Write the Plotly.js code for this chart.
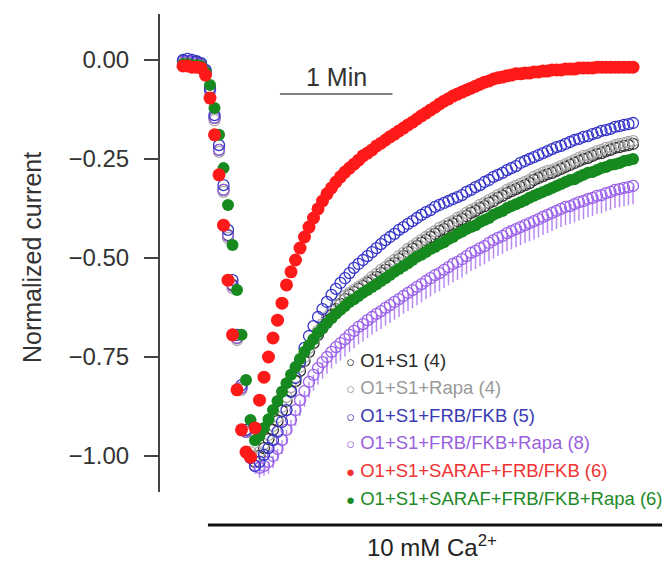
<!DOCTYPE html>
<html>
<head>
<meta charset="utf-8">
<script src="https://cdn.plot.ly/plotly-3.0.1.min.js"></script>
<style>html,body{margin:0;padding:0;background:#fff;}#chart{width:672px;height:562px;}</style>
</head>
<body>
<div id="chart"></div>
<script>
// time (s) after start of recording
const time = [0,2.4,4.8,7.2,9.6,12,14.4,16.8,19.2,21.6,24,26.4,28.8,31.2,33.6,36,38.4,40.8,43.2,45.6,48,50.4,52.8,55.2,57.6,60,62.4,64.8,67.2,69.6,72,74.4,76.8,79.2,81.6,84,86.4,88.8,91.2,93.6,96,98.4,100.8,103.2,105.6,108,110.4,112.8,115.2,117.6,120,122.4,124.8,127.2,129.6,132,134.4,136.8,139.2,141.6,144,146.4,148.8,151.2,153.6,156,158.4,160.8,163.2,165.6,168,170.4,172.8,175.2,177.6,180,182.4,184.8,187.2,189.6,192,194.4,196.8,199.2,201.6,204,206.4,208.8,211.2,213.6,216,218.4,220.8,223.2,225.6,228,230.4,232.8,235.2,237.6,240];

const seriesNames = ['O1+S1 (4)','O1+S1+Rapa (4)','O1+S1+FRB/FKB (5)','O1+S1+FRB/FKB+Rapa (8)','O1+S1+SARAF+FRB/FKB (6)','O1+S1+SARAF+FRB/FKB+Rapa (6)'];

const o1s1 = [-0.003,-0.003,-0.005,-0.005,-0.010,-0.028,-0.076,-0.146,-0.227,-0.328,
-0.442,-0.568,-0.702,-0.828,-0.939,-1.000,-1.015,-1.000,-0.980,-0.957,
-0.934,-0.912,-0.886,-0.861,-0.836,-0.811,-0.785,-0.760,-0.737,-0.715,
-0.694,-0.677,-0.659,-0.644,-0.629,-0.616,-0.604,-0.593,-0.586,-0.578,
-0.571,-0.563,-0.556,-0.548,-0.538,-0.530,-0.520,-0.513,-0.503,-0.495,
-0.485,-0.477,-0.470,-0.462,-0.455,-0.447,-0.439,-0.432,-0.427,-0.419,
-0.414,-0.407,-0.402,-0.394,-0.386,-0.381,-0.374,-0.369,-0.361,-0.356,
-0.348,-0.343,-0.336,-0.331,-0.326,-0.321,-0.316,-0.311,-0.303,-0.298,
-0.293,-0.288,-0.285,-0.280,-0.275,-0.270,-0.265,-0.260,-0.255,-0.250,
-0.247,-0.242,-0.237,-0.235,-0.230,-0.227,-0.222,-0.220,-0.217,-0.215,
-0.212];

const o1s1Rapa = [-0.005,-0.005,-0.008,-0.008,-0.013,-0.030,-0.081,-0.152,-0.232,-0.333,
-0.449,-0.576,-0.707,-0.833,-0.934,-0.990,-1.005,-0.990,-0.970,-0.947,
-0.924,-0.902,-0.876,-0.851,-0.826,-0.801,-0.775,-0.750,-0.727,-0.705,
-0.684,-0.667,-0.649,-0.634,-0.619,-0.606,-0.596,-0.588,-0.581,-0.573,
-0.566,-0.558,-0.548,-0.540,-0.530,-0.523,-0.513,-0.505,-0.495,-0.487,
-0.477,-0.470,-0.462,-0.455,-0.447,-0.439,-0.432,-0.424,-0.419,-0.412,
-0.407,-0.399,-0.394,-0.386,-0.379,-0.374,-0.366,-0.361,-0.354,-0.348,
-0.341,-0.336,-0.328,-0.323,-0.318,-0.313,-0.308,-0.303,-0.295,-0.290,
-0.285,-0.280,-0.278,-0.273,-0.268,-0.263,-0.258,-0.253,-0.247,-0.242,
-0.240,-0.235,-0.230,-0.227,-0.222,-0.220,-0.215,-0.212,-0.210,-0.207,
-0.205];

const frbFkb = [0.000,0.003,0.000,-0.003,-0.008,-0.025,-0.071,-0.139,-0.215,-0.316,
-0.429,-0.556,-0.694,-0.821,-0.934,-1.005,-1.025,-1.015,-0.997,-0.980,
-0.960,-0.939,-0.914,-0.884,-0.838,-0.803,-0.763,-0.727,-0.697,-0.672,
-0.649,-0.629,-0.611,-0.593,-0.578,-0.563,-0.551,-0.538,-0.525,-0.515,
-0.505,-0.495,-0.485,-0.475,-0.465,-0.455,-0.447,-0.439,-0.429,-0.422,
-0.414,-0.407,-0.399,-0.391,-0.384,-0.379,-0.371,-0.366,-0.361,-0.356,
-0.351,-0.346,-0.341,-0.333,-0.328,-0.321,-0.316,-0.308,-0.303,-0.295,
-0.290,-0.285,-0.278,-0.273,-0.268,-0.260,-0.255,-0.250,-0.245,-0.240,
-0.235,-0.230,-0.225,-0.220,-0.217,-0.212,-0.207,-0.202,-0.199,-0.194,
-0.192,-0.187,-0.184,-0.179,-0.177,-0.174,-0.169,-0.167,-0.164,-0.162,
-0.159];

const frbFkbRapa = [-0.005,-0.003,-0.005,-0.008,-0.013,-0.030,-0.076,-0.146,-0.227,-0.328,
-0.444,-0.571,-0.702,-0.828,-0.939,-1.005,-1.025,-1.030,-1.025,-1.015,
-1.000,-0.982,-0.960,-0.934,-0.909,-0.884,-0.859,-0.836,-0.813,-0.795,
-0.778,-0.763,-0.750,-0.737,-0.725,-0.715,-0.705,-0.694,-0.684,-0.674,
-0.667,-0.657,-0.649,-0.641,-0.634,-0.626,-0.619,-0.611,-0.604,-0.596,
-0.588,-0.581,-0.573,-0.566,-0.558,-0.551,-0.543,-0.538,-0.530,-0.523,
-0.515,-0.510,-0.503,-0.495,-0.487,-0.482,-0.475,-0.470,-0.462,-0.455,
-0.449,-0.444,-0.437,-0.432,-0.427,-0.422,-0.417,-0.412,-0.407,-0.402,
-0.396,-0.391,-0.386,-0.381,-0.376,-0.371,-0.369,-0.364,-0.359,-0.356,
-0.351,-0.348,-0.343,-0.341,-0.336,-0.333,-0.328,-0.326,-0.323,-0.321,
-0.318];

// SEM of FRB/FKB+Rapa, drawn downward
const frbFkbRapaSem = [0,0,0,0,0,0,0,0,0,0,
0,0,0,0,0,0,0.020,0.025,0.025,0.030,
0.030,0.030,0.035,0.035,0.035,0.040,0.040,0.040,0.040,0.040,
0.042,0.042,0.042,0.042,0.042,0.044,0.044,0.044,0.044,0.044,
0.044,0.045,0.045,0.045,0.045,0.045,0.045,0.045,0.045,0.045,
0.046,0.046,0.046,0.046,0.046,0.046,0.046,0.046,0.046,0.046,
0.046,0.046,0.046,0.046,0.046,0.046,0.046,0.046,0.046,0.046,
0.046,0.046,0.046,0.046,0.046,0.046,0.046,0.046,0.046,0.046,
0.046,0.046,0.046,0.046,0.046,0.046,0.046,0.046,0.046,0.046,
0.046,0.046,0.046,0.046,0.046,0.046,0.046,0.046,0.046,0.046,
0.046];

const saraf = [-0.015,-0.015,-0.018,-0.018,-0.020,-0.038,-0.096,-0.189,-0.290,-0.417,
-0.556,-0.694,-0.833,-0.934,-0.990,-1.003,-0.929,-0.859,-0.801,-0.750,
-0.702,-0.657,-0.614,-0.568,-0.535,-0.505,-0.475,-0.447,-0.422,-0.399,
-0.376,-0.356,-0.338,-0.323,-0.308,-0.295,-0.283,-0.273,-0.263,-0.253,
-0.242,-0.235,-0.227,-0.217,-0.210,-0.202,-0.194,-0.187,-0.179,-0.172,
-0.164,-0.157,-0.149,-0.141,-0.134,-0.126,-0.119,-0.111,-0.104,-0.098,
-0.091,-0.086,-0.081,-0.076,-0.071,-0.066,-0.061,-0.056,-0.053,-0.048,
-0.045,-0.043,-0.040,-0.038,-0.035,-0.035,-0.033,-0.033,-0.030,-0.030,
-0.028,-0.028,-0.025,-0.025,-0.025,-0.023,-0.023,-0.023,-0.020,-0.020,
-0.020,-0.020,-0.018,-0.018,-0.018,-0.018,-0.018,-0.018,-0.018,-0.018,
-0.018];

const sarafRapa = [-0.010,-0.010,-0.013,-0.013,-0.015,-0.030,-0.063,-0.121,-0.189,-0.273,
-0.366,-0.467,-0.581,-0.694,-0.808,-0.909,-0.960,-0.949,-0.929,-0.907,
-0.884,-0.861,-0.838,-0.816,-0.795,-0.775,-0.755,-0.737,-0.720,-0.705,
-0.689,-0.677,-0.664,-0.652,-0.641,-0.631,-0.621,-0.611,-0.604,-0.596,
-0.588,-0.581,-0.573,-0.566,-0.558,-0.551,-0.543,-0.535,-0.528,-0.520,
-0.513,-0.505,-0.497,-0.492,-0.485,-0.477,-0.472,-0.465,-0.460,-0.452,
-0.447,-0.439,-0.434,-0.427,-0.422,-0.417,-0.409,-0.404,-0.399,-0.391,
-0.386,-0.381,-0.374,-0.369,-0.364,-0.359,-0.354,-0.348,-0.343,-0.338,
-0.333,-0.328,-0.323,-0.318,-0.313,-0.308,-0.303,-0.301,-0.295,-0.290,
-0.285,-0.283,-0.278,-0.273,-0.270,-0.265,-0.263,-0.260,-0.255,-0.253,
-0.250];

const sarafErrPlus = 0.015;     // SEM of SARAF+FRB/FKB (shown upward)

const tickVals = [0, -0.25, -0.5, -0.75, -1];
const tickText = ['0.00', '\u22120.25', '\u22120.50', '\u22120.75', '\u22121.00'];

const scaleBar = [51.7, 111.7];    // 1 min
const caWindow = [13.3, 255.5];    // 10 mM Ca2+ application

const FONT = 'Liberation Sans, Arial, Helvetica, sans-serif';

function openTrace(y, name, color){
  return {x: time, y: y, name: name, type: 'scatter', mode: 'markers', cliponaxis: false,
    marker: {symbol: 'circle-open', size: 11, color: color, line: {width: 1.3, color: color}}};
}
function filledTrace(y, name, color, size){
  return {x: time, y: y, name: name, type: 'scatter', mode: 'markers', cliponaxis: false,
    marker: {symbol: 'circle', size: size, color: color, line: {width: 0}}};
}

const tBlack = openTrace(o1s1, seriesNames[0], '#333333');
const tGray = openTrace(o1s1Rapa, seriesNames[1], '#aaaaaa');
const tBlue = openTrace(frbFkb, seriesNames[2], '#3434c8');
const tPurple = openTrace(frbFkbRapa, seriesNames[3], '#9a62ea');
tPurple.error_y = {type: 'data', symmetric: false, array: frbFkbRapaSem.map(function(){return 0;}), arrayminus: frbFkbRapaSem, color: '#b88af2', thickness: 1.5, width: 0};
const tRed = filledTrace(saraf, seriesNames[4], '#ff1a1a', 13);
tRed.error_y = {type: 'constant', symmetric: false, value: sarafErrPlus, valueminus: 0, color: '#ff3030', thickness: 1.5, width: 0};
const tGreen = filledTrace(sarafRapa, seriesNames[5], '#168a1e', 12);

const data = [tBlack, tGray, tPurple, tBlue, tGreen, tRed];

const legendColors = ['#2a2a2a', '#9a9a9a', '#3a3ab4', '#9a5fdc', '#f03232', '#1e8a28'];
const legendSymbols = ['\u25CB', '\u25CB', '\u25CB', '\u25CB', '\u25CF', '\u25CF'];

const L = 160, T = 14, W = 512, H = 478;
function px(xp){ return (xp - L) / W; }
function py(yp){ return (T + H - yp) / H; }

const annotations = [];
seriesNames.forEach(function(n, k){
  annotations.push({
    xref: 'paper', yref: 'paper', x: px(344), y: py(360 + 27.6 * k),
    xanchor: 'left', yanchor: 'middle', showarrow: false, align: 'left',
    text: '<span style="font-size:15px">' + legendSymbols[k] + '</span> ' + n,
    font: {family: FONT, size: 18.5, color: legendColors[k]}
  });
});
annotations.push({
  xref: 'paper', yref: 'paper', x: px(32), y: py(258), textangle: -90,
  xanchor: 'center', yanchor: 'middle', showarrow: false,
  text: 'Normalized current', font: {family: FONT, size: 25, color: '#333'}
});
annotations.push({
  xref: 'x', yref: 'y', x: (scaleBar[0] + scaleBar[1]) / 2, y: -0.043,
  xanchor: 'center', yanchor: 'middle', showarrow: false,
  text: '1 Min', font: {family: FONT, size: 25, color: '#333'}
});
annotations.push({
  xref: 'paper', yref: 'paper', x: px(432), y: py(546),
  xanchor: 'center', yanchor: 'middle', showarrow: false,
  text: '10 mM Ca<sup>2+</sup>', font: {family: FONT, size: 24, color: '#222'}
});

const shapes = [
  {type: 'line', xref: 'x', yref: 'y', x0: scaleBar[0], x1: scaleBar[1], y0: -0.086, y1: -0.086,
   line: {color: '#555', width: 1.6}},
  {type: 'line', xref: 'x', yref: 'paper', x0: caWindow[0], x1: caWindow[1], y0: py(525), y1: py(525),
   line: {color: '#111', width: 3}}
];

const layout = {
  width: 672, height: 562,
  margin: {l: L, r: 0, t: T, b: 562 - T - H, pad: 0},
  paper_bgcolor: '#fff', plot_bgcolor: '#fff',
  font: {family: FONT, color: '#333'},
  showlegend: false,
  xaxis: {visible: false, range: [-12.27, 260.8], fixedrange: true},
  yaxis: {range: [-1.0909, 0.1162], tickvals: tickVals, ticktext: tickText,
    showline: true, linecolor: '#444', linewidth: 2, ticks: 'outside', ticklen: 14, tickwidth: 2,
    tickcolor: '#444', showgrid: false, zeroline: false, ticklabelstandoff: 10,
    tickfont: {family: FONT, size: 24, color: '#333'}, fixedrange: true},
  annotations: annotations,
  shapes: shapes
};

Plotly.newPlot('chart', data, layout, {displayModeBar: false, staticPlot: true});
</script>
</body>
</html>
